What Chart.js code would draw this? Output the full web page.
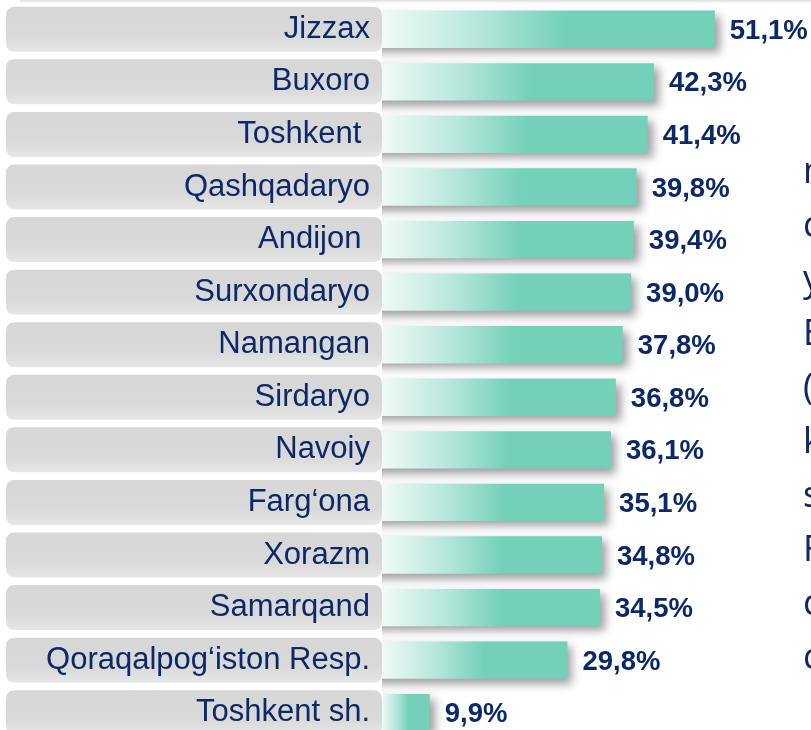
<!DOCTYPE html>
<html>
<head>
<meta charset="utf-8">
<script src="https://cdn.jsdelivr.net/npm/chart.js@4/dist/chart.umd.min.js"></script>
<style>
html,body{margin:0;padding:0;background:#fff;overflow:hidden;width:811px;height:730px;}
#wrap{position:absolute;left:0;top:0;width:811px;height:744px;}
</style>
</head>
<body>
<div id="wrap"><canvas id="c"></canvas></div>
<script>
const categories = ['Jizzax','Buxoro','Toshkent ','Qashqadaryo','Andijon ','Surxondaryo','Namangan','Sirdaryo','Navoiy','Farg‘ona','Xorazm','Samarqand','Qoraqalpog‘iston Resp.','Toshkent sh.'];
const values = [51.1,42.3,41.4,39.8,39.4,39.0,37.8,36.8,36.1,35.1,34.8,34.5,29.8,9.9];
const valueLabels = ['51,1%','42,3%','41,4%','39,8%','39,4%','39,0%','37,8%','36,8%','36,1%','35,1%','34,8%','34,5%','29,8%','9,9%'];
const sideLetters = ['m','c','y','E','(','k','s','F','c','c'];

const NAVY = '#0c2868';
const TEAL = '#74d0b9';

function barGradient(ctx){
  const chart = ctx.chart;
  const xs = chart.scales.x;
  if (!xs || ctx.dataIndex === undefined) return TEAL;
  const x0 = xs.getPixelForValue(xs.min);
  const x1 = xs.getPixelForValue(values[ctx.dataIndex]);
  if (!isFinite(x0) || !isFinite(x1) || x1 <= x0) return TEAL;
  const g = chart.ctx.createLinearGradient(x0, 0, x1, 0);
  g.addColorStop(0, '#f1faf7');
  g.addColorStop(0.3, '#b4e6da');
  g.addColorStop(0.55, TEAL);
  g.addColorStop(1, TEAL);
  return g;
}

function rr(ctx, x, y, w, h, r){
  ctx.beginPath();
  ctx.moveTo(x+r, y);
  ctx.lineTo(x+w-r, y);
  ctx.quadraticCurveTo(x+w, y, x+w, y+r);
  ctx.lineTo(x+w, y+h-r);
  ctx.quadraticCurveTo(x+w, y+h, x+w-r, y+h);
  ctx.lineTo(x+r, y+h);
  ctx.quadraticCurveTo(x, y+h, x, y+h-r);
  ctx.lineTo(x, y+r);
  ctx.quadraticCurveTo(x, y, x+r, y);
  ctx.closePath();
}

const decor = {
  id: 'decor',
  beforeDraw(chart){
    const ctx = chart.ctx;
    const ys = chart.scales.y;
    const left = chart.chartArea.left;
    ctx.save();
    const tg = ctx.createLinearGradient(0, 0, 0, 5);
    tg.addColorStop(0, 'rgba(190,190,190,0.55)');
    tg.addColorStop(1, 'rgba(255,255,255,0)');
    ctx.fillStyle = tg;
    ctx.fillRect(20, 0, 791, 5);
    categories.forEach((c, i) => {
      const yc = ys.getPixelForValue(i);
      const h = 45, top = yc - h/2;
      const g = ctx.createLinearGradient(0, top, 0, top + h);
      g.addColorStop(0, '#d7d7d7');
      g.addColorStop(0.65, '#d9d9d9');
      g.addColorStop(1, '#e7e7e7');
      ctx.fillStyle = g;
      rr(ctx, 6, top, left - 6, h, 9);
      ctx.fill();
    });
    ctx.restore();
  },
  beforeDatasetsDraw(chart){
    const ctx = chart.ctx;
    ctx.save();
    ctx.shadowColor = 'rgba(0,0,0,0.38)';
    ctx.shadowBlur = 9;
    ctx.shadowOffsetX = 5;
    ctx.shadowOffsetY = 5;
  },
  afterDatasetsDraw(chart){
    const ctx = chart.ctx;
    ctx.restore();
    ctx.save();
    const meta = chart.getDatasetMeta(0);
    ctx.fillStyle = NAVY;
    ctx.font = 'bold 27.5px "Liberation Sans", Arial, sans-serif';
    ctx.textAlign = 'left';
    ctx.textBaseline = 'middle';
    meta.data.forEach((el, i) => {
      ctx.fillText(valueLabels[i], el.x + 15, el.y + 2);
    });
    ctx.font = '36px "Open Sans", sans-serif';
    ctx.textBaseline = 'alphabetic';
    sideLetters.forEach((t, i) => {
      ctx.fillText(t, 803, 183 + i * 54);
    });
    ctx.restore();
  }
};

new Chart(document.getElementById('c'), {
  type: 'bar',
  data: {
    labels: categories,
    datasets: [{
      data: values,
      backgroundColor: barGradient,
      borderWidth: 0,
      barPercentage: 0.71,
      categoryPercentage: 1.0
    }]
  },
  options: {
    indexAxis: 'y',
    responsive: true,
    maintainAspectRatio: false,
    animation: false,
    layout: { padding: { top: 3, bottom: 5, left: 0, right: 0 } },
    plugins: { legend: { display: false }, tooltip: { enabled: false } },
    scales: {
      x: { display: false, min: 3, max: 65 },
      y: {
        grid: { display: false, drawTicks: false },
        border: { display: false },
        ticks: {
          color: NAVY,
          padding: 12,
          font: { family: '"Liberation Sans", Arial, sans-serif', size: 31 }
        },
        afterFit(scale){ scale.width = 382; scale.paddingTop = 0; scale.paddingBottom = 0; }
      }
    }
  },
  plugins: [decor]
});
</script>
</body>
</html>
